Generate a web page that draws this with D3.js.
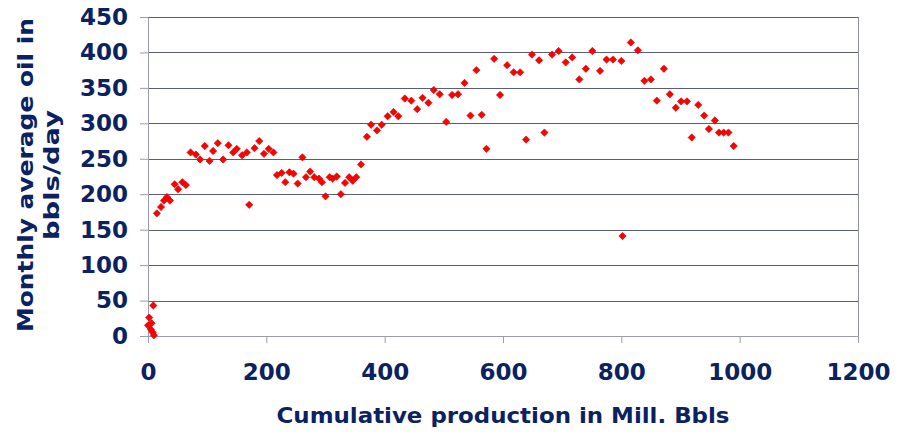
<!DOCTYPE html>
<head>
    <meta charset="utf-8">
    <title>Oil rate vs cumulative production</title>
    <style>
        body { margin: 0; background: #fff; }
        text { font-family: "DejaVu Sans", Verdana, sans-serif; font-weight: bold; fill: #0b2262; }
    </style>
</head>
<body>
    <script src="https://d3js.org/d3.v7.min.js"></script>
    <script>

        // cumulative production (Mill. Bbls)
        var cumProd = [
            9, 2, 0, 6, 5, 8, 10,
            15, 22, 27, 32, 37, 45, 51, 58, 64,
            72, 81, 88, 96, 104, 110, 118, 127, 136, 144, 150, 159, 167, 171, 180, 188, 196, 204, 212,
            218, 226, 232, 239, 246, 253, 261, 267, 274, 281, 289, 294, 300, 307, 312, 319, 326, 333, 340, 346, 352, 360,
            370, 377, 387, 395, 405, 415, 423, 434, 445, 455, 464, 474, 483, 493, 504, 514, 524, 535, 545, 555, 564, 572,
            585, 595, 607, 618, 629, 639, 649, 661, 670, 683, 694, 706, 717, 729, 740, 751,
            764, 775, 786, 800, 802, 816, 828, 839, 850, 860, 872, 882, 892, 901, 911, 919, 930, 940, 948, 958, 965, 973, 981, 990
        ];

        // monthly average oil (bbls/day)
        var oilRate = [
            43, 26, 15, 18, 9, 5, 1,
            173, 182, 191, 196, 191, 214, 207, 217, 213,
            259, 256, 249, 268, 247, 261, 272, 249, 269, 259, 264, 255, 259, 185, 265, 275, 257, 264, 259,
            227, 230, 217, 231, 229, 215, 252, 224, 232, 224, 222, 217, 197, 224, 222, 225, 200, 216, 224, 219, 224, 242,
            281, 298, 290, 298, 310, 316, 310, 335, 332, 320, 336, 329, 347, 341, 302, 340, 341, 357, 311, 375, 312, 264,
            391, 340, 382, 372, 372, 277, 397, 389, 287, 397, 402, 386, 393, 362, 377, 402,
            374, 390, 390, 388, 141, 414, 403, 360, 362, 332, 377, 341, 322, 331, 331, 280, 326, 311, 292, 304, 287, 287, 287, 268
        ];

        var xTicks = [0, 200, 400, 600, 800, 1000, 1200];
        var yTicks = [0, 50, 100, 150, 200, 250, 300, 350, 400, 450];

        var data = cumProd.map(function (d, i) { return { x: d, y: oilRate[i] }; });

        var margin = { top: 17, right: 40, bottom: 96, left: 148 },
            width = 858 - margin.left,
            height = 336 - margin.top;

        var x = d3.scaleLinear().domain([0, 1200]).range([0, width]);
        var y = d3.scaleLinear().domain([0, 450]).range([height, 0]);

        var svg = d3.select('body').append('svg')
            .attr('width', 898)
            .attr('height', 432);

        var g = svg.append('g')
            .attr('transform', 'translate(' + margin.left + ',' + margin.top + ')');

        // horizontal gridlines
        g.append('g')
            .selectAll('line')
            .data(yTicks.filter(function (d) { return d > 0; }))
            .enter().append('line')
            .attr('x1', 0)
            .attr('x2', width)
            .attr('y1', function (d) { return Math.round(y(d)) + 0.5; })
            .attr('y2', function (d) { return Math.round(y(d)) + 0.5; })
            .attr('stroke', '#5a5d78')
            .attr('stroke-width', 1);

        // right border
        g.append('line')
            .attr('x1', width + 0.5).attr('x2', width + 0.5)
            .attr('y1', y(450)).attr('y2', height)
            .attr('stroke', '#8e8fa6');

        var yAxis = d3.axisLeft(y)
            .tickValues(yTicks)
            .tickFormat(d3.format('d'))
            .tickSize(8)
            .tickPadding(12)
            .tickSizeOuter(0);

        var xAxis = d3.axisBottom(x)
            .tickValues(xTicks)
            .tickFormat(d3.format('d'))
            .tickSize(7)
            .tickPadding(21)
            .tickSizeOuter(0);

        g.append('g')
            .attr('class', 'y axis')
            .call(yAxis);

        g.append('g')
            .attr('class', 'x axis')
            .attr('transform', 'translate(0,' + height + ')')
            .call(xAxis);

        svg.selectAll('.axis path, .axis line')
            .attr('stroke', '#9a9bb0');
        svg.selectAll('.axis text')
            .attr('font-size', 23)
            .attr('font-family', '"DejaVu Sans", Verdana, sans-serif')
            .attr('font-weight', 'bold')
            .attr('fill', '#0b2262');

        // markers
        g.append('g')
            .selectAll('path')
            .data(data)
            .enter().append('path')
            .attr('d', d3.symbol().type(d3.symbolDiamond2).size(34))
            .attr('transform', function (d) { return 'translate(' + x(d.x) + ',' + y(d.y) + ')'; })
            .attr('fill', '#ff0000')
            .attr('stroke', '#d00000')
            .attr('stroke-width', 0.6);

        // axis titles
        svg.append('text')
            .attr('x', 503)
            .attr('y', 423)
            .attr('text-anchor', 'middle')
            .attr('font-size', 21.5)
            .attr('textLength', 453)
            .attr('lengthAdjust', 'spacingAndGlyphs')
            .text('Cumulative production in Mill. Bbls');

        svg.append('text')
            .attr('transform', 'translate(33,175) rotate(-90)')
            .attr('text-anchor', 'middle')
            .attr('font-size', 22)
            .attr('textLength', 314)
            .attr('lengthAdjust', 'spacingAndGlyphs')
            .text('Monthly average oil in');

        svg.append('text')
            .attr('transform', 'translate(59,175) rotate(-90)')
            .attr('text-anchor', 'middle')
            .attr('font-size', 22)
            .attr('textLength', 130)
            .attr('lengthAdjust', 'spacingAndGlyphs')
            .text('bbls/day');

    </script>
</body>
